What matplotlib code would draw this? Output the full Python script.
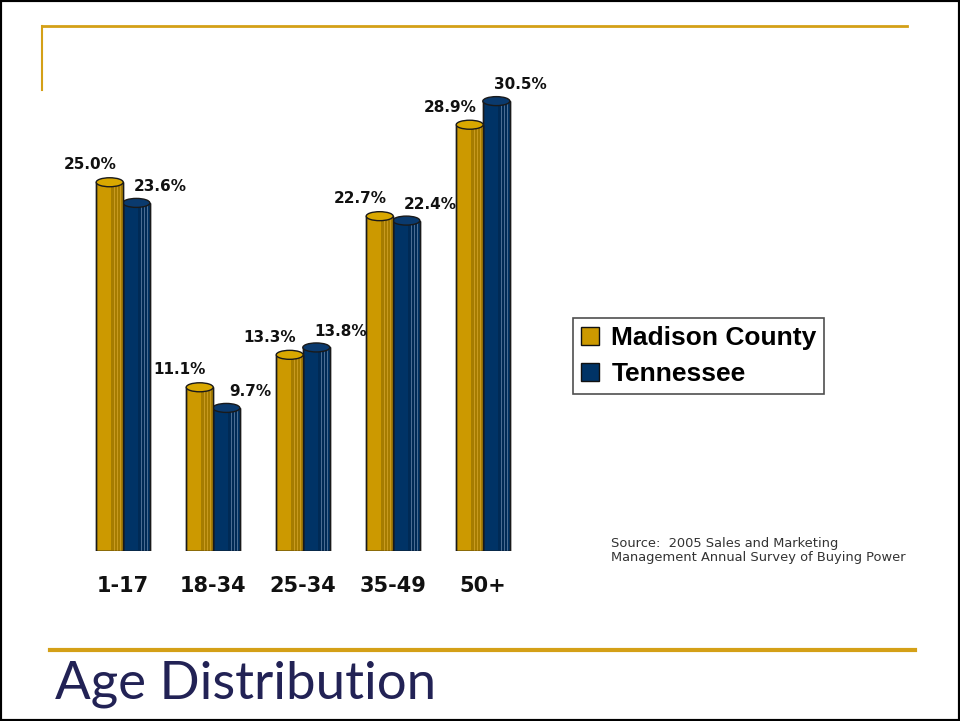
import matplotlib
matplotlib.use("Agg")
import matplotlib.pyplot as plt
from matplotlib.patches import Ellipse, Rectangle
from matplotlib.lines import Line2D
import numpy as np

categories = ["1-17", "18-34", "25-34", "35-49", "50+"]
madison = [25.0, 11.1, 13.3, 22.7, 28.9]
tennessee = [23.6, 9.7, 13.8, 22.4, 30.5]
series_names = ["Madison County", "Tennessee"]
title = "Age Distribution"
source = "Source:  2005 Sales and Marketing\nManagement Annual Survey of Buying Power"

GOLD = "#CC9900"
GOLD_DARK = "#A67C00"
GOLD_LIGHT = "#D9A800"
NAVY = "#003366"
NAVY_LIGHT = "#4A6C92"
RULE = "#D4A017"
TITLE_C = "#222255"

W, H = 960, 721
fig = plt.figure(figsize=(W / 100, H / 100), dpi=100)

# axes geometry in pixels
px_per_x = 90.0
px_per_y = 14.75
xlim = (-0.7, 4.6)
ylim = (0, 34)
left_px = 123 - (0 - xlim[0]) * px_per_x
bottom_px = 551
ax = fig.add_axes([left_px / W, (H - bottom_px) / H,
                   (xlim[1] - xlim[0]) * px_per_x / W,
                   (ylim[1] - ylim[0]) * px_per_y / H])
ax.set_xlim(*xlim)
ax.set_ylim(*ylim)
for s in ax.spines.values():
    s.set_visible(False)
ax.set_yticks([])
ax.patch.set_alpha(0)

x = np.arange(len(categories))
bw = 0.30
off = 0.148
cap_h = 9 / px_per_y


def cylinder(xc, vals, base, dark, light, top_col, zo):
    ax.bar(xc, vals, width=bw, color=base, edgecolor="#1a1a1a", linewidth=1.0, zorder=zo)
    # shading strips on the right side
    ax.bar(xc + bw * 0.25, vals, width=bw * 0.4, color=dark, linewidth=0, zorder=zo + 0.1)
    for f in (0.18, 0.30, 0.40):
        ax.bar(xc + bw * f, vals, width=bw * 0.03, color=light, linewidth=0, zorder=zo + 0.2)
    ax.bar(xc, vals, width=bw, color="none", edgecolor="#1a1a1a", linewidth=1.0, zorder=zo + 0.3)
    for xi, v in zip(xc, vals):
        ax.add_patch(Ellipse((xi, v), bw, cap_h, facecolor=top_col, edgecolor="#1a1a1a",
                             linewidth=1.0, zorder=zo + 0.4))


cylinder(x - off, madison, GOLD, GOLD_DARK, "#C89A20", GOLD_LIGHT, 3)
cylinder(x + off, tennessee, NAVY, "#002A55", NAVY_LIGHT, "#0A3A6E", 2)

for xi, v in zip(x - off, madison):
    ax.text(xi - 0.22, v + 1.2, f"{v:.1f}%", ha="center", va="center",
            fontsize=11, fontweight="bold", color="#111111", zorder=10)
for xi, v in zip(x + off, tennessee):
    ax.text(xi + 0.27, v + 1.1, f"{v:.1f}%", ha="center", va="center",
            fontsize=11, fontweight="bold", color="#111111", zorder=10)

ax.set_xticks(x)
ax.set_xticklabels(categories, fontsize=15, fontweight="bold", color="#111111")
ax.tick_params(axis="x", length=0, pad=18)

# legend
handles = [Line2D([], [], marker="s", linestyle="none", markersize=13,
                  markerfacecolor=c, markeredgecolor="#111111", markeredgewidth=1.0)
           for c in (GOLD, NAVY)]
leg = fig.legend(handles, series_names, loc="upper left",
                 bbox_to_anchor=(573 / W, 1 - 318 / H), frameon=True, fancybox=False,
                 prop={"family": ["Liberation Sans", "DejaVu Sans"], "weight": "bold", "size": 19},
                 handlelength=0.7, handletextpad=0.45, borderpad=0.3, labelspacing=0.45,
                 borderaxespad=0)
leg.get_frame().set_edgecolor("#222222")
leg.get_frame().set_linewidth(1.2)

# source note
fig.text(611 / W, 1 - 537 / H, source, ha="left", va="top", fontsize=9.4,
         color="#333333", linespacing=1.15)

# decorative rules
fig.add_artist(Line2D([42 / W, 907 / W], [1 - 26 / H, 1 - 26 / H], color=RULE, lw=2))
fig.add_artist(Line2D([42 / W, 42 / W], [1 - 26 / H, 1 - 90 / H], color=RULE, lw=1.5))
fig.add_artist(Line2D([50 / W, 915 / W], [1 - 650 / H, 1 - 650 / H], color=RULE, lw=3))

# title
fig.text(55 / W, 1 - 698 / H, title, ha="left", va="baseline", fontsize=38,
         family=["Lato", "DejaVu Sans"], fontweight="normal", color=TITLE_C)

# outer frame
fig.add_artist(Rectangle((0, 0), 1, 1, transform=fig.transFigure, fill=False,
                         edgecolor="black", linewidth=3))

fig.savefig("out.png", dpi=100)
